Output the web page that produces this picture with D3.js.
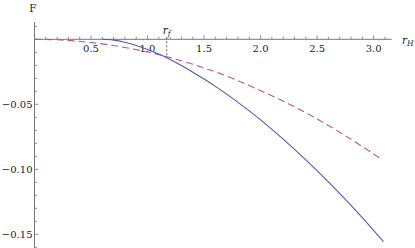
<!DOCTYPE html>
<html><head><meta charset="utf-8">
<script src="https://cdn.jsdelivr.net/npm/d3@7"></script>
<style>body{margin:0;background:#fff}</style>
</head><body>
<svg id="c" width="415" height="248" font-family="DejaVu Serif, serif"></svg>
<script>
// Data
const solidX = [0.6,0.7,0.8,0.9,1.0,1.1,1.2,1.3,1.4,1.5,1.6,1.7,1.8,1.9,2.0,2.2,2.4,2.6,2.8,3.0,3.087];
const solidY = [0,-0.0006,-0.0023,-0.0047,-0.0078,-0.0114,-0.0155,-0.0202,-0.0253,-0.0306,-0.0362,-0.0422,-0.0485,-0.0551,-0.0620,-0.0768,-0.0927,-0.1097,-0.1278,-0.1469,-0.1556];
const dashX = [0,0.25,0.5,0.75,1.0,1.25,1.5,1.75,2.0,2.25,2.5,2.75,3.0,3.057];
const dashY = [0,-0.0006,-0.0025,-0.0055,-0.0098,-0.0153,-0.022,-0.030,-0.0395,-0.0497,-0.0613,-0.0742,-0.0882,-0.0915];
const xMajor = [0.5,1.0,1.5,2.0,2.5,3.0];
const yMajor = [-0.05,-0.10,-0.15];
const rf = 1.17, rfY = -0.0134;

const svg = d3.select("#c");
const x = d3.scaleLinear().domain([0,3.16]).range([34.5,391.7]);
const y = d3.scaleLinear().domain([0,-0.05]).range([39.3,104.3]);
const axisCol = "#777";

svg.append("line").attr("x1",x(0)).attr("x2",x(3.16)).attr("y1",y(0)).attr("y2",y(0)).attr("stroke",axisCol).attr("stroke-width",1);
const xMinor = d3.range(1,32).map(i=>i/10);
svg.selectAll(".xt").data(xMinor).enter().append("line")
  .attr("x1",d=>x(d)).attr("x2",d=>x(d))
  .attr("y1",y(0)).attr("y2",d=>y(0)-(Math.abs(d*2-Math.round(d*2))<1e-6?4:2.5))
  .attr("stroke",axisCol).attr("stroke-width",0.8);
svg.selectAll(".xl").data(xMajor).enter().append("text")
  .attr("x",d=>x(d)).attr("y",y(0)+12.5).attr("text-anchor","middle")
  .attr("font-size",10).attr("fill","#222")
  .text(d=>d3.format(".1f")(d));

svg.append("line").attr("x1",x(0)).attr("x2",x(0)).attr("y1",22).attr("y2",248).attr("stroke",axisCol).attr("stroke-width",1);
const yMinor = d3.range(-16,2).map(i=>i/100);
svg.selectAll(".yt").data(yMinor).enter().append("line")
  .attr("x1",x(0)).attr("x2",d=>x(0)+(Math.round(d*100)%5===0?4:2.5))
  .attr("y1",d=>y(d)).attr("y2",d=>y(d))
  .attr("stroke",axisCol).attr("stroke-width",0.8);
svg.selectAll(".yl").data(yMajor).enter().append("text")
  .attr("x",x(0)-2).attr("y",d=>y(d)+3.6).attr("text-anchor","end")
  .attr("font-size",10).attr("fill","#222")
  .text(d=>"\u2212"+d3.format(".2f")(-d));

svg.append("text").attr("x",33).attr("y",12).attr("text-anchor","middle")
  .attr("font-size",10.5).attr("fill","#222").text("F");
const rh = svg.append("text").attr("x",402).attr("y",43.5)
  .attr("font-size",10.5).attr("fill","#222");
rh.append("tspan").attr("font-style","italic").text("r");
rh.append("tspan").attr("font-style","italic").attr("font-size",7.5).attr("dy",2).text("H");

svg.append("line").attr("x1",x(rf)).attr("x2",x(rf)).attr("y1",y(0)-2).attr("y2",y(rfY))
  .attr("stroke","#333").attr("stroke-width",0.8).attr("stroke-dasharray","2,2");
const rft = svg.append("text").attr("x",x(rf)-4).attr("y",34)
  .attr("font-size",10.5).attr("fill","#222");
rft.append("tspan").attr("font-style","italic").text("r");
rft.append("tspan").attr("font-style","italic").attr("font-size",7.5).attr("dy",2).text("f");

const line = d3.line().x(d=>x(d[0])).y(d=>y(d[1])).curve(d3.curveCatmullRom);
svg.append("path").datum(dashX.map((v,i)=>[v,dashY[i]])).attr("d",line)
  .attr("fill","none").attr("stroke","#b8578a").attr("stroke-width",1.1).attr("stroke-dasharray","7,4");
svg.append("path").datum(solidX.map((v,i)=>[v,solidY[i]])).attr("d",line)
  .attr("fill","none").attr("stroke","#5656b8").attr("stroke-width",1.1);
</script>
</body></html>
